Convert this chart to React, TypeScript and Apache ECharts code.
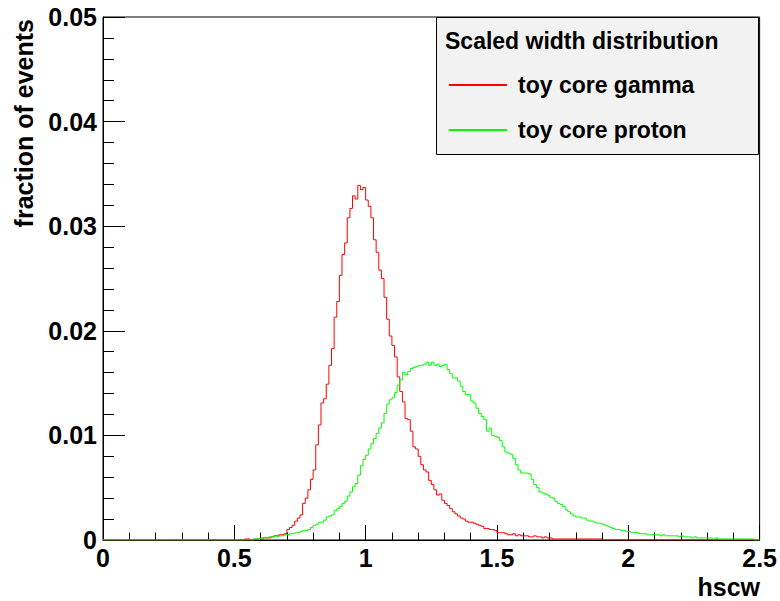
import React, { useEffect, useRef } from "react";
import * as echarts from "echarts";

// ---- data ----
const binWidth = 0.01;
const xMin = 0;
const xMax = 2.5;
const yMax = 0.05;
const seriesNames = ["toy core gamma", "toy core proton"];
const legendTitle = "Scaled width distribution";
const xTitle = "hscw";
const yTitle = "fraction of events";

// toy core gamma: bin contents starting at bin low edge 0.54
const gammaStart = 0.54;
const gammaValues = [
  0.0001, 0.0001, 0, 0, 0.0001, 0.0001, // 0.54-0.59
  0.0001, 0.0002, 0.0002, 0.0002, 0.0003, 0.0004, 0.0004, 0.0005, 0.0005, 0.0006, // 0.60-0.69
  0.001, 0.0012, 0.0014, 0.0018, 0.0021, 0.0024, 0.0035, 0.004, 0.0048, 0.0058, // 0.70-0.79
  0.0067, 0.0091, 0.011, 0.0131, 0.0135, 0.0149, 0.0167, 0.0183, 0.0213, 0.0228, // 0.80-0.89
  0.0253, 0.0273, 0.0284, 0.0308, 0.0317, 0.0329, 0.0326, 0.0339, 0.0335, 0.0337, // 0.90-0.99
  0.0325, 0.0319, 0.0308, 0.0287, 0.0275, 0.0258, 0.025, 0.0232, 0.0211, 0.0195, // 1.00-1.09
  0.0186, 0.0175, 0.0156, 0.0142, 0.0132, 0.0116, 0.0115, 0.0104, 0.0089, 0.0087, // 1.10-1.19
  0.008, 0.0072, 0.0067, 0.0065, 0.0057, 0.0053, 0.0048, 0.0043, 0.0044, 0.0038, // 1.20-1.29
  0.0035, 0.0033, 0.003, 0.0027, 0.0025, 0.0023, 0.0021, 0.002, 0.0018, 0.0017, // 1.30-1.39
  0.0017, 0.0016, 0.0015, 0.0014, 0.0013, 0.0011, 0.0011, 0.001, 0.001, 0.0009, // 1.40-1.49
  0.0007, 0.0007, 0.0007, 0.0006, 0.0005, 0.0005, 0.0006, 0.0004, 0.0005, 0.0004, // 1.50-1.59
  0.0004, 0.0004, 0.0003, 0.0003, 0.0004, 0.0003, 0.0003, 0.0002, 0.0003, 0.0002, // 1.60-1.69
  0.0002, 0.0001, 0.0001, 0.0001, 0.0001, 0.0001, 0.0001, 0.0001, 0.0001, 0.0001, // 1.70-1.79
  0.0001, 0.0001, 0.0001, 0.0001, 0.0001, 0.0001, 0.0001, 0.0001, 0.0001, 0.0001, // 1.80-1.89
];

// toy core proton: bin contents starting at bin low edge 0.57
const protonStart = 0.57;
const protonValues = [
  0.0001, 0.0001, 0.0001, // 0.57-0.59
  0.0002, 0.0002, 0.0002, 0.0003, 0.0003, 0.0003, 0.0003, 0.0004, 0.0004, 0.0005, // 0.60-0.69
  0.0005, 0.0006, 0.0006, 0.0007, 0.0007, 0.0008, 0.0009, 0.0009, 0.001, 0.0012, // 0.70-0.79
  0.0014, 0.0015, 0.0017, 0.0017, 0.0019, 0.0022, 0.0023, 0.0024, 0.0028, 0.003, // 0.80-0.89
  0.0032, 0.0035, 0.0037, 0.0042, 0.0046, 0.0051, 0.0054, 0.0062, 0.0071, 0.0077, // 0.90-0.99
  0.0081, 0.0087, 0.0092, 0.0097, 0.0102, 0.0107, 0.0112, 0.0121, 0.013, 0.0134, // 1.00-1.09
  0.0136, 0.0141, 0.0148, 0.0153, 0.016, 0.0158, 0.0161, 0.0164, 0.0165, 0.0166, // 1.10-1.19
  0.0167, 0.0167, 0.0168, 0.017, 0.0167, 0.017, 0.0167, 0.0168, 0.0166, 0.0167, // 1.20-1.29
  0.0168, 0.0163, 0.0159, 0.0155, 0.0155, 0.0152, 0.0147, 0.0142, 0.0139, 0.0139, // 1.30-1.39
  0.0133, 0.0131, 0.0126, 0.0121, 0.0118, 0.0115, 0.0104, 0.0107, 0.01, 0.0099, // 1.40-1.49
  0.0098, 0.0095, 0.0089, 0.0084, 0.0083, 0.0082, 0.0078, 0.0072, 0.0067, 0.0064, // 1.50-1.59
  0.0064, 0.0064, 0.0063, 0.0058, 0.0053, 0.005, 0.0046, 0.0045, 0.0044, 0.0043, // 1.60-1.69
  0.0041, 0.004, 0.0037, 0.0035, 0.0034, 0.0032, 0.0029, 0.0027, 0.0025, 0.0023, // 1.70-1.79
  0.0022, 0.0022, 0.0021, 0.0021, 0.0019, 0.0018, 0.0018, 0.0017, 0.0016, 0.0016, // 1.80-1.89
  0.0015, 0.0014, 0.0013, 0.0012, 0.0011, 0.001, 0.001, 0.0009, 0.0009, 0.0008, // 1.90-1.99
  0.0008, 0.0007, 0.0007, 0.0007, 0.0006, 0.0006, 0.0006, 0.0005, 0.0005, 0.0005, // 2.00-2.09
  0.0005, 0.0005, 0.0004, 0.0005, 0.0004, 0.0004, 0.0004, 0.0004, 0.0004, 0.0003, // 2.10-2.19
  0.0004, 0.0003, 0.0003, 0.0003, 0.0002, 0.0003, 0.0002, 0.0002, 0.0002, 0.0002, // 2.20-2.29
  0.0002, 0.0002, 0.0001, 0.0002, 0.0001, 0.0001, 0.0001, 0.0001, 0.0001, 0.0001, // 2.30-2.39
  0.0001, 0.0001, 0.0001, 0.0001, 0.0001, 0.0001, 0.0001, 0.0001, // 2.40-2.47
];

const FONT = '"Liberation Sans", Arial, Helvetica, sans-serif';

function toStepData(start: number, values: number[]): [number, number][] {
  const nBins = Math.round((xMax - xMin) / binWidth);
  const bins = new Array(nBins).fill(0);
  const offset = Math.round((start - xMin) / binWidth);
  values.forEach((v, k) => {
    if (offset + k < nBins) bins[offset + k] = v;
  });
  const pts: [number, number][] = bins.map((v, i) => [
    +(xMin + i * binWidth).toFixed(4),
    v,
  ]);
  pts.push([xMax, bins[nBins - 1]]);
  return pts;
}

export default function App() {
  const ref = useRef<HTMLDivElement>(null);
  useEffect(() => {
    if (!ref.current) return;
    const chart = echarts.init(ref.current, undefined, { renderer: "svg" });
    const labelStyle = {
      color: "#000",
      fontFamily: FONT,
      fontWeight: "bold" as const,
      fontSize: 25,
    };
    chart.setOption({
      animation: false,
      backgroundColor: "#fff",
      grid: {
        left: 103,
        right: 18,
        top: 17,
        bottom: 61,
        show: true,
        borderColor: "#000",
        borderWidth: 1,
        backgroundColor: "transparent",
      },
      xAxis: {
        type: "value",
        min: xMin,
        max: xMax,
        interval: 0.5,
        axisLine: { show: true, lineStyle: { color: "#000", width: 1 } },
        axisTick: { show: true, inside: true, length: 15, lineStyle: { color: "#000" } },
        minorTick: { show: true, splitNumber: 5, length: 7.5, lineStyle: { color: "#000" } },
        splitLine: { show: false },
        axisLabel: { ...labelStyle, margin: 5, showMinLabel: true, showMaxLabel: true },
      },
      yAxis: {
        type: "value",
        min: 0,
        max: yMax,
        interval: 0.01,
        axisLine: { show: true, lineStyle: { color: "#000", width: 1 } },
        axisTick: { show: true, inside: true, length: 22, lineStyle: { color: "#000" } },
        minorTick: { show: true, splitNumber: 5, length: 11, lineStyle: { color: "#000" } },
        splitLine: { show: false },
        axisLabel: { ...labelStyle, margin: 6 },
      },
      legend: {
        data: seriesNames,
        orient: "vertical",
        left: 448,
        top: 73,
        padding: 0,
        itemWidth: 58,
        itemHeight: 24,
        itemGap: 21,
        selectedMode: false,
        itemStyle: { opacity: 0 },
        textStyle: {
          color: "#000",
          fontFamily: FONT,
          fontWeight: "bold",
          fontSize: 23,
          lineHeight: 24,
          padding: [0, 0, 0, 6],
        },
        z: 10,
      },
      graphic: [
        {
          type: "rect",
          z: 5,
          shape: { x: 436.5, y: 17.5, width: 322, height: 137 },
          style: { fill: "#f2f2f2", stroke: "#000", lineWidth: 1 },
        },
        {
          type: "text",
          z: 6,
          x: 445,
          y: 41,
          style: {
            text: legendTitle,
            fill: "#000",
            font: `bold 23px ${FONT}`,
            textAlign: "left",
            textVerticalAlign: "middle",
          },
        },
        {
          type: "text",
          x: 760,
          y: 587,
          style: {
            text: xTitle,
            fill: "#000",
            font: `bold 25px ${FONT}`,
            textAlign: "right",
            textVerticalAlign: "middle",
          },
        },
        {
          type: "text",
          x: 24,
          y: 19,
          rotation: Math.PI / 2,
          style: {
            text: yTitle,
            fill: "#000",
            font: `bold 25px ${FONT}`,
            textAlign: "right",
            textVerticalAlign: "middle",
          },
        },
      ],
      series: [
        {
          name: seriesNames[0],
          type: "line",
          step: "end",
          symbol: "none",
          data: toStepData(gammaStart, gammaValues),
          lineStyle: { color: "#ff0000", width: 1 },
          itemStyle: { color: "#ff0000" },
          z: 2,
        },
        {
          name: seriesNames[1],
          type: "line",
          step: "end",
          symbol: "none",
          data: toStepData(protonStart, protonValues),
          lineStyle: { color: "#00ff00", width: 1 },
          itemStyle: { color: "#00ff00" },
          z: 3,
        },
      ],
    });
    return () => chart.dispose();
  }, []);
  return (
    <div
      ref={ref}
      style={{ position: "fixed", left: 0, top: 0, width: 780, height: 601, background: "#fff" }}
    />
  );
}
